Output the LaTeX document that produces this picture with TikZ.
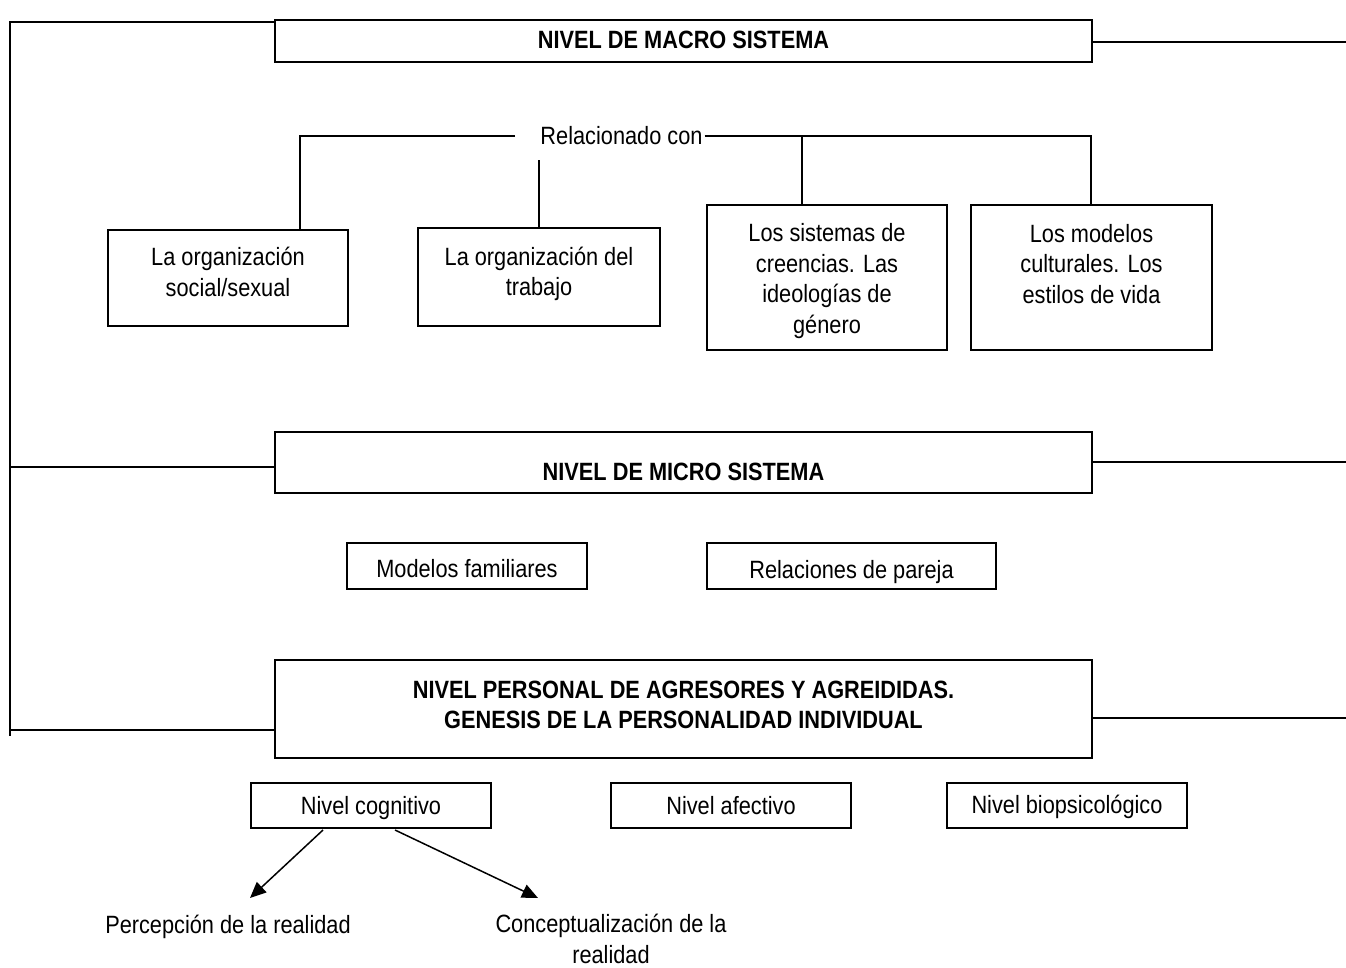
\documentclass[tikz,border=0pt]{standalone}
\usepackage{fontspec}
\setmainfont{Liberation Sans}[FakeStretch=0.87]
\usetikzlibrary{calc,arrows.meta}
\begin{document}
\begin{tikzpicture}[x=1pt,y=-1pt,
  box/.style={draw, line width=1.5pt, inner sep=0pt},
  txt/.style={font=\fontsize{25}{30.5}\selectfont, align=center, inner sep=0pt},
  btxt/.style={font=\fontsize{25}{30}\selectfont\bfseries, align=center, inner sep=0pt},
  ln/.style={line width=1.5pt},
  arr/.style={line width=1.5pt, -{Triangle[length=16pt,width=14pt]}}]
\useasboundingbox (0,0) rectangle (1346,967);
% level boxes
\node[box, minimum width=817, minimum height=42] (macro) at (683.5,41) {};
\node[btxt] (macrot) at (683.5,40) {NIVEL DE MACRO SISTEMA};
\node[box, minimum width=817, minimum height=61] (micro) at (683.5,462.5) {};
\node[btxt] (microt) at (683.5,472) {NIVEL DE MICRO SISTEMA};
\node[box, minimum width=817, minimum height=98] (pers) at (683.5,709) {};
\node[btxt] (perst) at (683.5,705) {NIVEL PERSONAL DE AGRESORES Y AGREIDIDAS.\\GENESIS DE LA PERSONALIDAD INDIVIDUAL};
% macro sub-boxes
\node[txt] (rel) at (621.5,136) {Relacionado con};
\node[box, minimum width=240, minimum height=96] (b1) at (228,278) {};
\node[txt] (b1t) at (228,272) {La organización\\social/sexual};
\node[box, minimum width=242, minimum height=98] (b2) at (539,277) {};
\node[txt] (b2t) at (539,274) {La organización del\\trabajo};
\node[box, minimum width=240, minimum height=145] (b3) at (827,277.5) {};
\node[txt] (b3t) at (827,281) {Los sistemas de\\creencias. Las\\ideologías de\\género};
\node[box, minimum width=241, minimum height=145] (b4) at (1091.5,277.5) {};
\node[txt] (b4t) at (1091.5,264) {Los modelos\\culturales. Los\\estilos de vida};
% micro sub-boxes
\node[box, minimum width=240, minimum height=46] (fam) at (467,566) {};
\node[txt] (famt) at (467,569) {Modelos familiares};
\node[box, minimum width=289, minimum height=46] (par) at (851.5,566) {};
\node[txt] (part) at (851.5,572) {Relaciones de pareja};
% personal sub-boxes
\node[box, minimum width=240, minimum height=45] (cog) at (371,805.5) {};
\node[txt] (cogt) at (371,808) {Nivel cognitivo};
\node[box, minimum width=240, minimum height=45] (afe) at (731,805.5) {};
\node[txt] (afet) at (731,806) {Nivel afectivo};
\node[box, minimum width=240, minimum height=45] (bio) at (1067,805.5) {};
\node[txt] (biot) at (1067,807) {Nivel biopsicológico};
\node[txt] (perc) at (228,927) {Percepción de la realidad};
\node[txt] (conc) at (611,939) {Conceptualización de la\\realidad};
% left spine
\coordinate (ltop) at (10,22);
\coordinate (lmid) at (10,467);
\coordinate (lper) at (10,730);
\coordinate (lbot) at (10,736);
\draw[ln] (ltop -| macro.west) -- (ltop) -- (lbot);
\draw[ln] (lmid) -- (lmid -| micro.west);
\draw[ln] (lper) -- (lper -| pers.west);
% right lines
\coordinate (r1) at (1346,42);
\coordinate (r2) at (1346,462);
\coordinate (r3) at (1346,718);
\draw[ln] (r1 -| macro.east) -- (r1);
\draw[ln] (r2 -| micro.east) -- (r2);
\draw[ln] (r3 -| pers.east) -- (r3);
% Relacionado con connectors
\coordinate (k1) at (515,136);
\coordinate (j1) at (300,136);
\coordinate (j2) at (539,160);
\coordinate (j3) at (802,136);
\coordinate (j4) at (1091,136);
\draw[ln] (k1) -- (j1) -- (j1 |- b1.north);
\draw[ln] (j2) -- (b2.north);
\draw[ln] ([xshift=2pt]rel.east) -- (j4) -- (j4 |- b4.north);
\draw[ln] (j3) -- (j3 |- b3.north);
% arrows
\coordinate (a1s) at (323,830);
\coordinate (a1e) at (250,898);
\coordinate (a2s) at (395,830);
\coordinate (a2e) at (538,898);
\draw[arr] (a1s) -- (a1e);
\draw[arr] (a2s) -- (a2e);
\end{tikzpicture}
\end{document}
